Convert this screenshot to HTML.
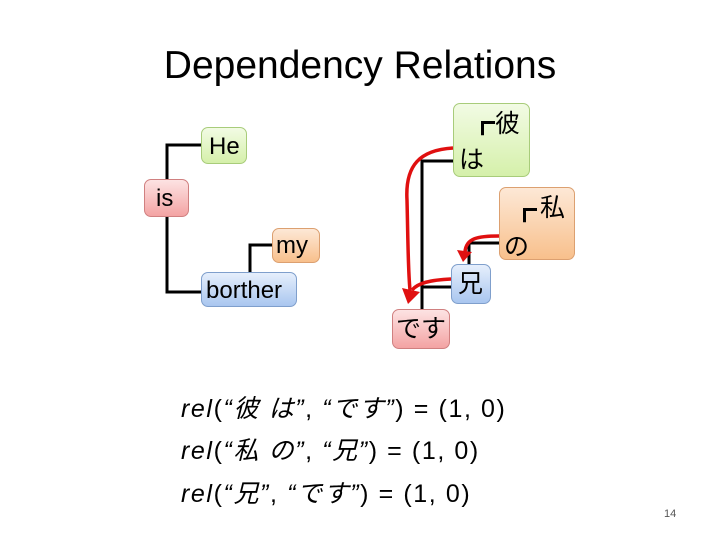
<!DOCTYPE html>
<html><head><meta charset="utf-8"><style>
body{margin:0;width:720px;height:540px;background:#fff;position:relative;overflow:hidden;font-family:"Liberation Sans","Noto Sans CJK JP",sans-serif;}
.t{position:absolute;white-space:nowrap;color:#000;}
.b{position:absolute;border-radius:7px;box-sizing:border-box;font-size:23px;line-height:1.05;}
.g{background:linear-gradient(#f2fbe4,#d5f0aa);border:1px solid #a8cc7a;}
.r{background:linear-gradient(#fde3e3,#f3a3a3);border:1px solid #d08080;}
.o{background:linear-gradient(#fde8d6,#f8c08c);border:1px solid #dca070;}
.bl{background:linear-gradient(#e6effc,#a9c6ef);border:1px solid #7f9fcc;}
.j{position:absolute;font-size:25px;line-height:1;}
.f{font-size:25px;letter-spacing:1.6px;}
.f i{font-style:italic;}
</style></head><body>
<div class="t" style="left:0;width:720px;text-align:center;top:44px;font-size:39px;">Dependency Relations</div>
<svg width="720" height="540" style="position:absolute;left:0;top:0">
<g stroke="#000" stroke-width="3" fill="none">
<polyline points="201,145 167,145 167,179"/>
<polyline points="167,217 167,292 201,292"/>
<polyline points="272,245 250,245 250,272"/>
<polyline points="453,161 422,161 422,311"/>
<line x1="422" y1="287" x2="451" y2="287"/>
<polyline points="499,243 469,243 469,264"/>
</g>
<g stroke="#e01010" stroke-width="3.5" fill="none">
<path d="M453,148 C420,150 405,165 407,200 C408,240 408,270 410,290"/>
<path d="M451,279 C430,280 418,283 412,290"/>
<path d="M499,236 C478,236 466,238 465,252"/>
</g>
<g fill="#e01010">
<polygon points="402,288 420,292 408,304"/>
<polygon points="457,250 472,252 463,262"/>
</g>
</svg>
<div class="b g" style="left:201px;top:127px;width:46px;height:37px;padding:6px 0 0 7px;font-size:24px;">He</div>
<div class="b r" style="left:144px;top:179px;width:45px;height:38px;padding:6px 0 0 11px;font-size:24px;">is</div>
<div class="b o" style="left:272px;top:228px;width:48px;height:35px;padding:4px 0 0 3px;font-size:24px;">my</div>
<div class="b bl" style="left:201px;top:272px;width:96px;height:35px;padding:5px 0 0 4px;font-size:24px;">borther</div>
<div class="b g" style="left:453px;top:103px;width:77px;height:74px;"></div>
<div class="j" style="left:470px;top:112px;">┏</div>
<div class="j" style="left:495px;top:112px;">彼</div>
<div class="j" style="left:459px;top:148px;">は</div>
<div class="b o" style="left:499px;top:187px;width:76px;height:73px;"></div>
<div class="j" style="left:512px;top:199px;">┏</div>
<div class="j" style="left:540px;top:196px;">私</div>
<div class="j" style="left:504px;top:235px;">の</div>
<div class="b bl" style="left:451px;top:264px;width:40px;height:40px;"></div>
<div class="j" style="left:458px;top:272px;">兄</div>
<div class="b r" style="left:392px;top:309px;width:58px;height:40px;"></div>
<div class="j" style="left:396px;top:317px;">です</div>
<div class="t f" style="left:181px;top:389px;"><i>rel</i>(<i>“彼 は”</i>, <i>“です”</i>) = (1, 0)</div>
<div class="t f" style="left:181px;top:431px;"><i>rel</i>(<i>“私 の”</i>, <i>“兄”</i>) = (1, 0)</div>
<div class="t f" style="left:181px;top:474px;"><i>rel</i>(<i>“兄”</i>, <i>“です”</i>) = (1, 0)</div>
<div class="t" style="left:664px;top:508px;font-size:11px;color:#555;">14</div>
</body></html>
